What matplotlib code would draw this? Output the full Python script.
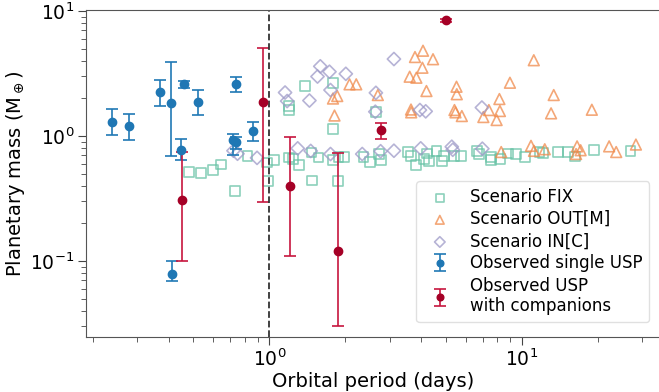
import numpy as np
import matplotlib
matplotlib.use('Agg')
import matplotlib.pyplot as plt

# Simulated scenarios (period in days, mass in Earth masses)
fix_period = [0.48, 0.535, 0.60, 0.645, 0.733, 0.82, 0.98, 0.985, 1.04, 1.197, 1.197,
              1.197, 1.245, 1.31, 1.38, 1.477, 1.468, 1.565, 1.79, 1.786, 1.783, 1.87,
              1.878, 1.984, 2.36, 2.50, 2.715, 2.763, 2.634, 3.54, 3.64, 3.81, 4.10,
              4.22, 4.29, 4.59, 4.84, 4.90, 5.39, 5.73, 6.63, 6.77, 7.53, 7.53, 8.18,
              8.78, 9.47, 10.28, 11.73, 12.08, 13.86, 15.18, 16.23, 19.29, 26.9]
fix_mass = [0.515, 0.508, 0.537, 0.592, 0.366, 0.688, 0.614, 0.437, 0.639, 1.74, 1.61,
            0.673, 0.651, 0.589, 2.50, 0.441, 0.738, 0.673, 2.64, 1.13, 0.643, 0.439,
            0.683, 0.683, 0.683, 0.616, 0.718, 0.643, 1.55, 0.749, 0.692, 0.583, 0.655,
            0.724, 0.634, 0.759, 0.631, 0.692, 0.696, 0.696, 0.756, 0.715, 0.643, 0.683,
            0.655, 0.724, 0.718, 0.683, 0.745, 0.735, 0.749, 0.745, 0.686, 0.778, 0.763]

out_period = [1.786, 1.857, 1.811, 2.077, 2.208, 2.688, 3.594, 3.82, 3.772, 4.058, 4.446,
              4.036, 4.187, 3.637, 3.644, 5.507, 5.521, 5.406, 5.456, 5.781, 7.035, 7.396,
              8.142, 8.18, 7.937, 8.963, 11.14, 13.36, 13.04, 18.91, 8.277, 10.86, 11.16,
              12.31, 16.53, 17.07, 16.38, 22.14, 23.61, 28.26]
out_mass = [1.995, 2.089, 1.459, 2.592, 2.592, 2.128, 2.982, 2.927, 4.285, 4.813, 4.115,
            3.519, 2.291, 1.629, 1.547, 2.48, 2.16, 1.614, 1.547, 1.445, 1.419, 1.614,
            1.977, 1.585, 1.343, 2.669, 4.04, 2.128, 1.519, 1.623, 0.745, 0.835, 0.761,
            0.784, 0.827, 0.77, 0.718, 0.827, 0.745, 0.855]

in_period = [0.721, 0.748, 0.894, 1.154, 1.176, 1.295, 1.458, 1.441, 1.591, 1.551, 1.73,
             2.008, 1.746, 1.746, 2.332, 2.641, 2.627, 2.757, 3.113, 3.113, 3.945, 4.159,
             3.974, 5.275, 5.324, 6.94, 6.971]
in_mass = [0.763, 0.722, 0.669, 2.228, 1.905, 0.797, 0.76, 1.923, 3.611, 2.992, 3.269,
           3.145, 2.333, 0.718, 0.718, 2.216, 1.565, 0.756, 4.13, 0.763, 1.614, 1.576,
           0.797, 0.821, 0.777, 1.69, 0.792]

# Observed single USPs
single_period = [0.238, 0.279, 0.369, 0.408, 0.448, 0.461, 0.52, 0.735, 0.72, 0.735, 0.859, 0.411]
single_mass = [1.30, 1.20, 2.24, 1.83, 0.78, 2.59, 1.86, 2.59, 0.93, 0.89, 1.09, 0.079]
single_lo = [1.02, 0.93, 1.74, 0.69, 0.64, 2.44, 1.46, 2.25, 0.70, 0.79, 0.92, 0.069]
single_hi = [1.64, 1.49, 2.79, 3.89, 0.94, 2.76, 2.32, 2.96, 1.04, 0.98, 1.29, 0.10]

# Observed USPs with companions
comp_period = [0.453, 0.947, 1.21, 1.87, 2.76, 5.01]
comp_mass = [0.306, 1.88, 0.40, 0.12, 1.12, 8.43]
comp_lo = [0.10, 0.295, 0.11, 0.030, 0.95, 8.2]
comp_hi = [0.745, 5.1, 0.98, 0.73, 1.28, 8.65]

single_mass = np.array(single_mass)
comp_mass = np.array(comp_mass)
single_err = [single_mass - np.array(single_lo), np.array(single_hi) - single_mass]
comp_err = [comp_mass - np.array(comp_lo), np.array(comp_hi) - comp_mass]

fig = plt.figure(figsize=(6.59, 3.92), dpi=100)
ax = fig.add_axes([0.1305, 0.1403, 0.8715, 0.8342])

ax.scatter(fix_period, fix_mass, marker='s', s=50, facecolors='none',
           edgecolors='#66c2a5', linewidths=1.2, alpha=0.75, label='Scenario FIX')
ax.scatter(out_period, out_mass, marker='^', s=60, facecolors='none',
           edgecolors='#f08a4b', linewidths=1.2, alpha=0.75, label='Scenario OUT[M]')
ax.scatter(in_period, in_mass, marker='D', s=45, facecolors='none',
           edgecolors='#9e9ac8', linewidths=1.2, alpha=0.75, label='Scenario IN[C]')

ax.errorbar(single_period, single_mass, yerr=single_err, fmt='o', color='#1f77b4',
            ecolor=(0.12, 0.47, 0.71, 0.85), elinewidth=1.4, capsize=4, capthick=1.4,
            markersize=6, label='Observed single USP')
ax.errorbar(comp_period, comp_mass, yerr=comp_err, fmt='o', color='#a50026',
            ecolor=(0.78, 0.08, 0.24, 0.85), elinewidth=1.4, capsize=4, capthick=1.4,
            markersize=6, label='Observed USP\nwith companions')

ax.axvline(1.0, color='#333333', linestyle='--', linewidth=1.3)

ax.set_xscale('log')
ax.set_yscale('log')
ax.set_xlim(0.188, 35.3)
ax.set_ylim(0.0247, 10.19)

ax.set_xlabel('Orbital period (days)', fontsize=14, labelpad=1)
ax.set_ylabel(r'Planetary mass (M$_\oplus$)', fontsize=14, labelpad=2)
ax.tick_params(axis='both', which='major', labelsize=13.5, length=6, color='#444444', pad=2.5)
ax.tick_params(axis='both', which='minor', length=3.5, color='#444444')

for side in ['top', 'left', 'bottom', 'right']:
    ax.spines[side].set_color('#555555')
ax.spines['right'].set_visible(False)

ax.legend(loc='lower right', fontsize=12, frameon=True, framealpha=0.9,
          edgecolor='#dddddd', handletextpad=0.8, borderpad=0.4, labelspacing=0.25,
          markerscale=0.8, bbox_to_anchor=(0.995, 0.02))

plt.savefig('out.png', dpi=100)
